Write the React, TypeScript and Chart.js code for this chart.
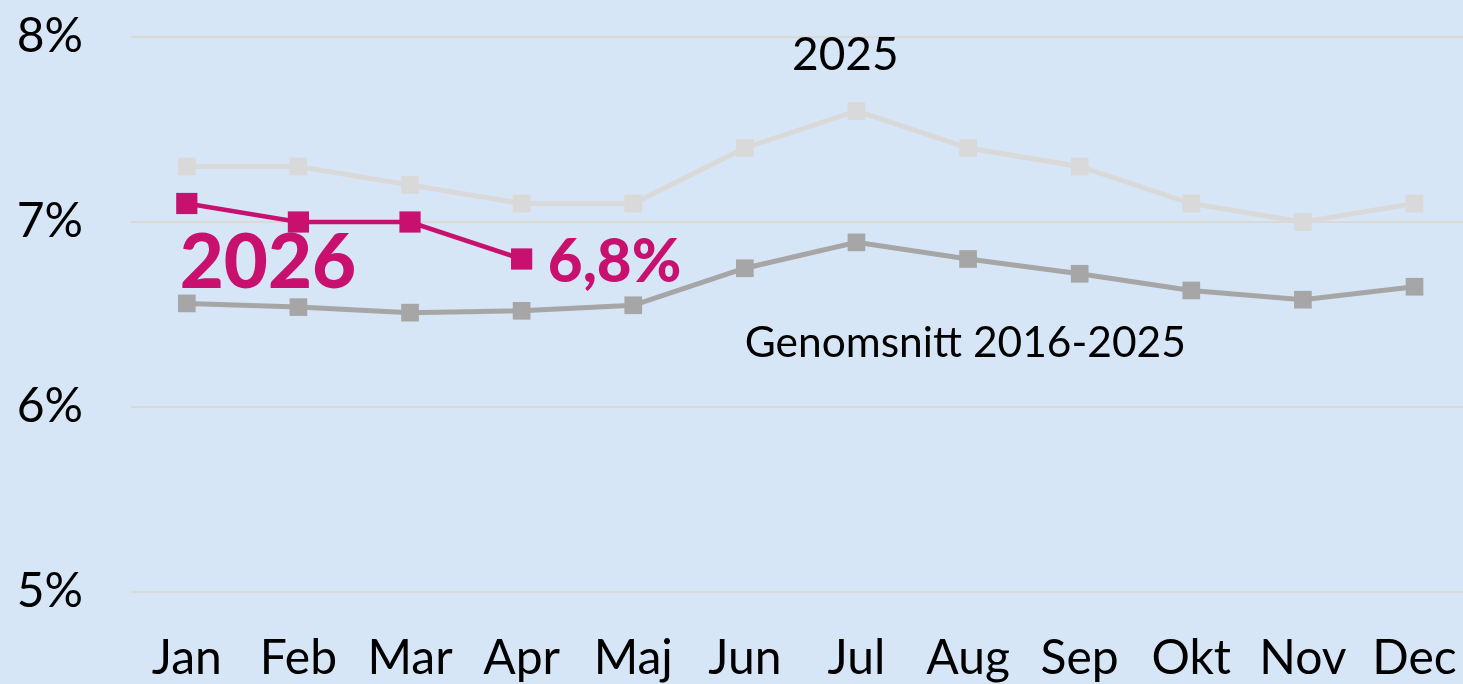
import React, { useEffect, useRef } from "react";
import { Chart, registerables } from "chart.js";

Chart.register(...registerables);

const months = ["Jan", "Feb", "Mar", "Apr", "Maj", "Jun", "Jul", "Aug", "Sep", "Okt", "Nov", "Dec"];
const values2025 = [7.3, 7.3, 7.2, 7.1, 7.1, 7.4, 7.6, 7.4, 7.3, 7.1, 7.0, 7.1];
const valuesAvg = [6.56, 6.54, 6.51, 6.52, 6.55, 6.75, 6.89, 6.8, 6.72, 6.63, 6.58, 6.65];
const values2026 = [7.1, 7.0, 7.0, 6.8];
const yTicks = [5, 6, 7, 8];

// annotations: text, x (month index), y (value)
const annText = ["2025", "Genomsnitt 2016-2025", "2026", "6,8%"];
const annX = [5.9, 6.975, -0.063, 3.235];
const annY = [7.903, 6.346, 6.778, 6.778];

const FONT = "Lato, 'Noto Sans', sans-serif";
const MAGENTA = "#C8106E";
const GRID = "#D9D9D9";

export default function App() {
  const ref = useRef<HTMLCanvasElement>(null);
  useEffect(() => {
    document.body.style.margin = "0";
    document.body.style.background = "#D6E6F6";
    const gridExt = {
      id: "gridExt",
      beforeDatasetsDraw(chart: any) {
        const { ctx, scales, chartArea } = chart;
        ctx.save();
        ctx.strokeStyle = GRID;
        ctx.lineWidth = 2;
        yTicks.forEach((v) => {
          const y = Math.round(scales.y.getPixelForValue(v));
          ctx.beginPath();
          ctx.moveTo(chartArea.right, y);
          ctx.lineTo(chart.width, y);
          ctx.stroke();
        });
        ctx.restore();
      },
    };
    const annPlugin = {
      id: "ann",
      afterDatasetsDraw(chart: any) {
        const { ctx, scales } = chart;
        const styles = [
          { font: `400 46px ${FONT}`, color: "#000", align: "center" },
          { font: `400 42.5px ${FONT}`, color: "#000", align: "center" },
          { font: `900 76px ${FONT}`, color: MAGENTA, align: "left" },
          { font: `900 60px ${FONT}`, color: MAGENTA, align: "left" },
        ];
        ctx.save();
        annText.forEach((t, i) => {
          const s = styles[i];
          ctx.font = s.font;
          ctx.fillStyle = s.color;
          ctx.textAlign = s.align;
          ctx.textBaseline = "middle";
          ctx.fillText(t, scales.x.getPixelForValue(annX[i]), scales.y.getPixelForValue(annY[i]));
        });
        ctx.restore();
      },
    };
    const chart = new Chart(ref.current!, {
      type: "line",
      data: {
        datasets: [
          {
            label: "2026",
            data: values2026.map((v, i) => ({ x: i, y: v })),
            borderColor: MAGENTA,
            backgroundColor: MAGENTA,
            borderWidth: 4.5,
            pointStyle: "rect",
            pointRadius: 15,
            pointBorderWidth: 0,
            pointBackgroundColor: MAGENTA,
          },
          {
            label: "Genomsnitt 2016-2025",
            data: valuesAvg.map((v, i) => ({ x: i, y: v })),
            borderColor: "#A6A6A6",
            backgroundColor: "#A6A6A6",
            borderWidth: 5,
            pointStyle: "rect",
            pointRadius: 12.5,
            pointBorderWidth: 0,
            pointBackgroundColor: "#A6A6A6",
          },
          {
            label: "2025",
            data: values2025.map((v, i) => ({ x: i, y: v })),
            borderColor: GRID,
            backgroundColor: GRID,
            borderWidth: 5,
            pointStyle: "rect",
            pointRadius: 12.5,
            pointBorderWidth: 0,
            pointBackgroundColor: GRID,
          },
        ],
      },
      options: {
        animation: false,
        responsive: false,
        maintainAspectRatio: false,
        layout: { padding: { top: 37, left: 0, right: 0, bottom: 0 } },
        plugins: { legend: { display: false }, tooltip: { enabled: false } },
        scales: {
          x: {
            type: "linear",
            min: -0.5,
            max: 11.3,
            grid: { display: false },
            border: { display: false },
            afterBuildTicks: (scale: any) => {
              scale.ticks = months.map((_, i) => ({ value: i }));
            },
            afterFit: (scale: any) => {
              scale.height = 92;
              scale.paddingLeft = 0;
              scale.paddingRight = 0;
            },
            ticks: {
              autoSkip: false,
              maxRotation: 0,
              padding: 30,
              color: "#000",
              font: { family: FONT, size: 48 },
              callback: (v: any) => months[v] ?? "",
            },
          },
          y: {
            min: 5,
            max: 8,
            afterBuildTicks: (scale: any) => {
              scale.ticks = yTicks.map((v) => ({ value: v }));
            },
            afterFit: (scale: any) => {
              scale.width = 131;
              scale.paddingTop = 0;
              scale.paddingBottom = 0;
            },
            grid: { color: GRID, lineWidth: 2, drawTicks: false },
            border: { display: false },
            ticks: {
              padding: 48,
              color: "#000",
              font: { family: FONT, size: 48 },
              callback: (v: any) => `${v}%`,
            },
          },
        },
      },
      plugins: [gridExt, annPlugin],
    });
    return () => chart.destroy();
  }, []);
  return (
    <div style={{ width: 1463, height: 684, background: "#D6E6F6" }}>
      <canvas ref={ref} width={1463} height={684} style={{ display: "block" }} />
    </div>
  );
}
